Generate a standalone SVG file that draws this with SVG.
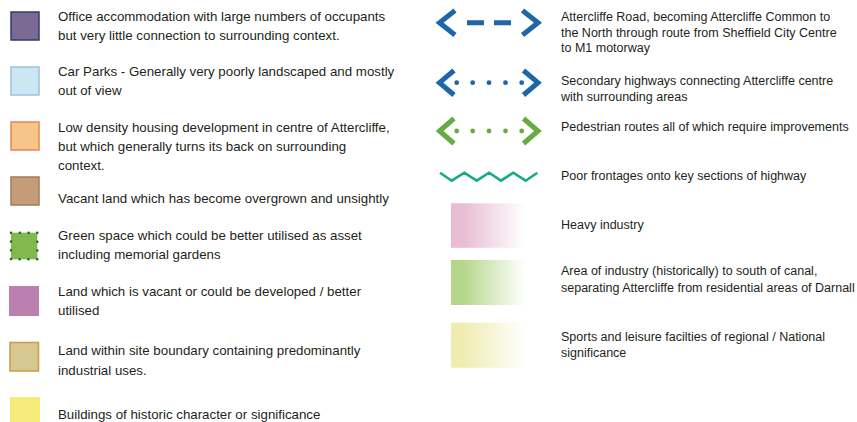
<svg xmlns="http://www.w3.org/2000/svg" width="857" height="422" viewBox="0 0 857 422">
<style>
text{font-family:"Liberation Sans","Noto Sans",sans-serif;font-size:13.3px;fill:#231f20}
.r text{font-size:12.5px}
.blue{stroke:#1f66a8;fill:none;stroke-width:5}
.green{stroke:#67ab43;fill:none;stroke-width:5}
</style>
<defs>
<linearGradient id="gp" x1="0" x2="1" y1="0" y2="0"><stop offset="0" stop-color="#e8bcd3"/><stop offset="0.15" stop-color="#e8bcd3"/><stop offset="1" stop-color="#e8bcd3" stop-opacity="0"/></linearGradient>
<linearGradient id="gg" x1="0" x2="1" y1="0" y2="0"><stop offset="0" stop-color="#b4d68a"/><stop offset="0.15" stop-color="#b4d68a"/><stop offset="1" stop-color="#b4d68a" stop-opacity="0"/></linearGradient>
<linearGradient id="gy" x1="0" x2="1" y1="0" y2="0"><stop offset="0" stop-color="#efecb0"/><stop offset="0.15" stop-color="#efecb0"/><stop offset="1" stop-color="#efecb0" stop-opacity="0"/></linearGradient>
</defs>
<rect width="857" height="422" fill="#fff"/>
<g id="left">
<g id="office"><rect x="11" y="12" width="28" height="28" fill="#7a6a94" stroke="#2e3f66" stroke-width="1.5"/><text x="58" y="21">Office accommodation with large numbers of occupants</text><text x="58" y="40">but very little connection to surrounding context.</text></g>
<g id="carparks"><rect x="11" y="67" width="28" height="28" fill="#cce6f4" stroke="#9cc3e0" stroke-width="1.5"/><text x="58" y="76">Car Parks - Generally very poorly landscaped and mostly</text><text x="58" y="95">out of view</text></g>
<g id="housing"><rect x="11" y="122" width="28" height="28" fill="#f7c48a" stroke="#e08a50" stroke-width="1.5"/><text x="58" y="132">Low density housing development in centre of Attercliffe,</text><text x="58" y="151">but which generally turns its back on surrounding</text><text x="58" y="170">context.</text></g>
<g id="vacant"><rect x="11" y="177" width="28" height="28" fill="#c49c78" stroke="#a07c5e" stroke-width="1.5"/><text x="58" y="203">Vacant land which has become overgrown and unsightly</text></g>
<g id="greenspace"><rect x="11" y="232.7" width="26.3" height="26.6" fill="#82b84e"/><rect x="11" y="232.7" width="26.3" height="26.6" fill="none" stroke="#1e6a1e" stroke-width="2.6" stroke-linecap="round" stroke-dasharray="0 8.82"/><text x="58" y="240">Green space which could be better utilised as asset</text><text x="58" y="258.5">including memorial gardens</text></g>
<g id="land"><rect x="9" y="286" width="30" height="30" fill="#bc80b0"/><text x="58" y="296">Land which is vacant or could be developed / better</text><text x="58" y="314.5">utilised</text></g>
<g id="industrial"><rect x="10" y="342.5" width="28.5" height="28.5" fill="#d6c890" stroke="#c89e48" stroke-width="1.5"/><text x="58" y="355">Land within site boundary containing predominantly</text><text x="58" y="374.5">industrial uses.</text></g>
<g id="historic"><rect x="10" y="397" width="30" height="28" fill="#f6ec7c"/><text x="58" y="419">Buildings of historic character or significance</text></g>
</g>
<g id="connectors">
<g id="road"><path class="blue" d="M455 10.5 L439.5 22.7 L455 35 M522.5 10.5 L538 22.7 L522.5 35"/><path class="blue" d="M467 22.7 H484 M494 22.7 H511"/></g>
<g id="secondary"><path class="blue" d="M454 70.5 L439.5 82.7 L454 95 M523.5 70.5 L538 82.7 L523.5 95"/><g fill="#1f66a8"><circle cx="456.7" cy="82.7" r="2.4"/><circle cx="472.7" cy="82.7" r="2.4"/><circle cx="489" cy="82.7" r="2.4"/><circle cx="505.5" cy="82.7" r="2.4"/><circle cx="521.7" cy="82.7" r="2.4"/></g></g>
<g id="pedestrian"><path class="green" d="M454 118.5 L439.5 131 L454 143.5 M523.5 118.5 L538 131 L523.5 143.5"/><g fill="#67ab43"><circle cx="456.7" cy="131" r="2.4"/><circle cx="472.7" cy="131" r="2.4"/><circle cx="489" cy="131" r="2.4"/><circle cx="505.5" cy="131" r="2.4"/><circle cx="521.7" cy="131" r="2.4"/></g></g>
<g id="frontage"><polyline points="440,172.7 451.7,180.7 464.3,172.7 476.7,180.7 489,172.7 501,180.7 513.3,172.7 525.7,180.7 537.3,172.7" fill="none" stroke="#1aa88c" stroke-width="2.6"/></g>
</g>
<g class="r">
<g id="roadtext"><text x="561" y="21">Attercliffe Road, becoming Attercliffe Common to</text><text x="561" y="36.5">the North through route from Sheffield City Centre</text><text x="561" y="52">to M1 motorway</text></g>
<g id="sectext"><text x="561" y="85">Secondary highways connecting Attercliffe centre</text><text x="561" y="100.5">with surrounding areas</text></g>
<g id="pedtext"><text x="561" y="130.5">Pedestrian routes all of which require improvements</text></g>
<g id="fronttext"><text x="561" y="180">Poor frontages onto key sections of highway</text></g>
<g id="heavy"><rect x="451" y="203.3" width="74" height="44.5" fill="url(#gp)"/><text x="561" y="228.5">Heavy industry</text></g>
<g id="southcanal"><rect x="451" y="260" width="74" height="45" fill="url(#gg)"/><text x="561" y="275">Area of industry (historically) to south of canal,</text><text x="561" y="291.5">separating Attercliffe from residential areas of Darnall</text></g>
<g id="sports"><rect x="451" y="322.7" width="74" height="45" fill="url(#gy)"/><text x="561" y="341">Sports and leisure facilties of regional / National</text><text x="561" y="356.5">significance</text></g>
</g>
</svg>
